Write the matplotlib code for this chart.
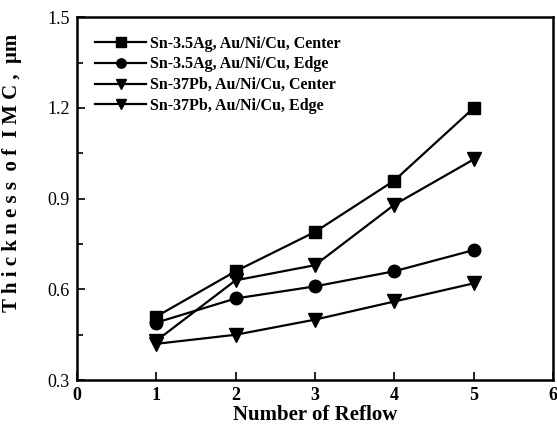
import matplotlib.pyplot as plt
from matplotlib.ticker import MultipleLocator

reflow = [1, 2, 3, 4, 5]
ag_center = [0.51, 0.66, 0.79, 0.96, 1.20]
ag_edge = [0.49, 0.57, 0.61, 0.66, 0.73]
pb_center = [0.43, 0.63, 0.68, 0.88, 1.03]
pb_edge = [0.42, 0.45, 0.50, 0.56, 0.62]

labels = ["Sn-3.5Ag, Au/Ni/Cu, Center",
          "Sn-3.5Ag, Au/Ni/Cu, Edge",
          "Sn-37Pb, Au/Ni/Cu, Center",
          "Sn-37Pb, Au/Ni/Cu, Edge"]

plt.rcParams['font.family'] = ['Liberation Serif', 'DejaVu Serif']

fig = plt.figure(figsize=(5.57, 4.3), dpi=100)
ax = fig.add_axes([0.138, 0.116, 0.855, 0.844])

ax.plot(reflow, ag_center, 'k-s', lw=1.6, ms=9, label=labels[0])
ax.plot(reflow, ag_edge, 'k-o', lw=1.6, ms=9, label=labels[1])
ax.plot(reflow, pb_center, 'k-v', lw=1.6, ms=10, label=labels[2])
ax.plot(reflow, pb_edge, 'k-v', lw=1.6, ms=10, label=labels[3])

ax.set_xlim(0, 6)
ax.set_ylim(0.3, 1.5)
ax.xaxis.set_major_locator(MultipleLocator(1))
ax.yaxis.set_major_locator(MultipleLocator(0.3))
ax.yaxis.set_minor_locator(MultipleLocator(0.15))
ax.yaxis.set_major_formatter(plt.FuncFormatter(lambda v, p: "%.1f" % v))
ax.tick_params(direction='in', length=6, width=1.2, labelsize=13, top=False, right=False, pad=5)
ax.tick_params(which='minor', direction='in', length=4, width=1.2, right=False)
for lab in ax.get_xticklabels():
    lab.set_fontweight('bold')
for s in ax.spines.values():
    s.set_linewidth(1.8)

ax.set_xlabel("Number of Reflow", fontsize=15, fontweight='bold', labelpad=1)
ax.set_ylabel("T h i c k n e s s  o f  I M C ,  μm", fontsize=15, fontweight='bold')
ax.yaxis.set_label_coords(-0.115, 0.57)

leg = ax.legend(loc='upper left', frameon=False, handlelength=3.2, markerscale=0.75,
                labelspacing=0.3, handletextpad=0.2, borderaxespad=0.75,
                prop={'weight': 'bold', 'size': 11.5})

plt.savefig('out.png', dpi=100)
